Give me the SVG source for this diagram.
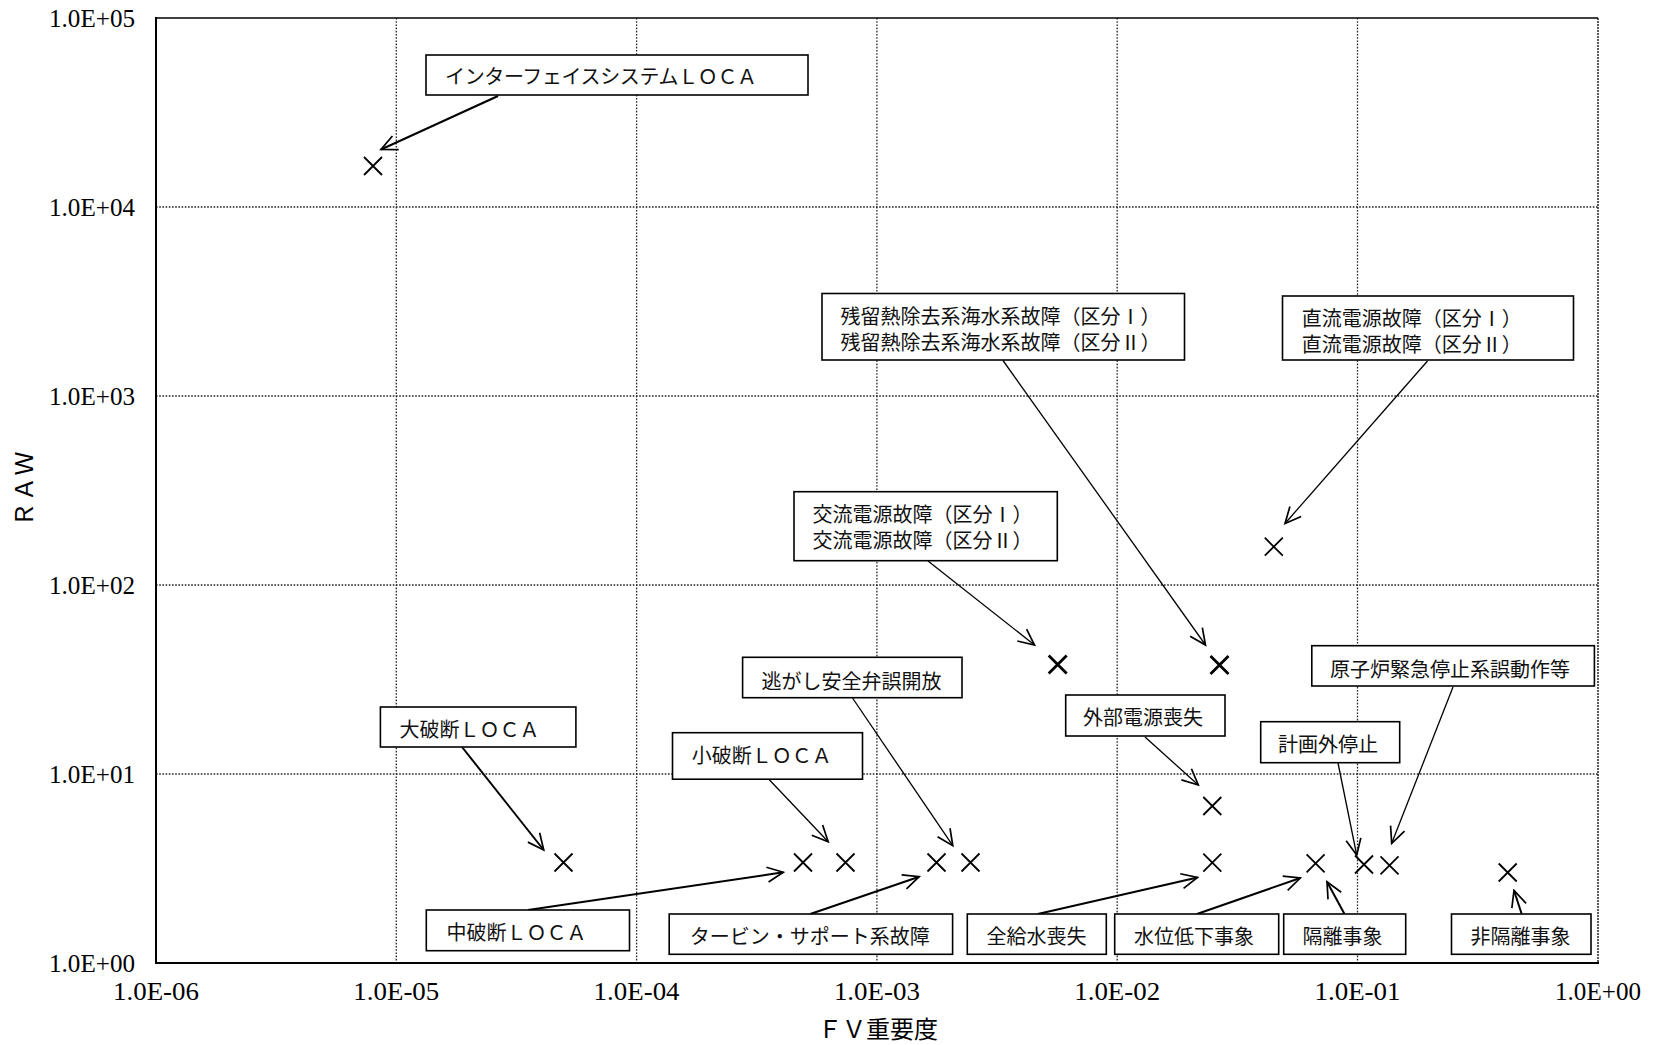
<svg xmlns="http://www.w3.org/2000/svg" xmlns:xlink="http://www.w3.org/1999/xlink" width="1655" height="1045" viewBox="0 0 1655 1045">
<style>
.grid{stroke:#222;stroke-width:1.3;stroke-dasharray:1.6 1.6;fill:none}
.axis{stroke:#000;stroke-width:2;fill:none}
.tick{font-family:"Liberation Serif","DejaVu Serif",serif;font-size:25px;fill:#000}
.title{font-family:"Liberation Serif","Noto Sans CJK JP",serif;font-size:24px;fill:#000}
.box rect{fill:#fff;stroke:#000;stroke-width:1.6}
.box text{font-family:"Noto Sans CJK JP","Liberation Sans",sans-serif;font-size:20px;fill:#111}
.pt{stroke:#000;stroke-width:1.8;fill:none}
.bold{stroke-width:2.8}
.c{stroke:#000;fill:none;marker-end:url(#ah)}
.thin{stroke-width:1.3}
.thick{stroke-width:2}
</style>
<defs>
<marker id="ah" markerUnits="userSpaceOnUse" viewBox="-20 -11 22 22" markerWidth="22" markerHeight="22" refX="0" refY="0" orient="auto">
<path d="M-16,-7.5 L0,0 L-16,7.5" fill="none" stroke="#000" stroke-width="1.7"/>
</marker>
<path id="xm" d="M-9,-9 L9,9 M-9,9 L9,-9"/>
</defs>
<rect width="1655" height="1045" fill="#fff"/>

<g id="grid">
<line class="grid" x1="156" y1="207" x2="1598" y2="207"/>
<line class="grid" x1="156" y1="396" x2="1598" y2="396"/>
<line class="grid" x1="156" y1="585" x2="1598" y2="585"/>
<line class="grid" x1="156" y1="774" x2="1598" y2="774"/>
<line class="grid" x1="396.3" y1="18" x2="396.3" y2="963"/>
<line class="grid" x1="636.6" y1="18" x2="636.6" y2="963"/>
<line class="grid" x1="876.9" y1="18" x2="876.9" y2="963"/>
<line class="grid" x1="1117.2" y1="18" x2="1117.2" y2="963"/>
<line class="grid" x1="1357.5" y1="18" x2="1357.5" y2="963"/>
<line class="grid" x1="1598" y1="18" x2="1598" y2="963" style="stroke-dasharray:2 1;stroke-width:1.5"/>
<line x1="156" y1="18" x2="1598" y2="18" stroke="#000" stroke-width="1.6"/>
<path class="axis" d="M156,17 V963 H1599"/>
</g>

<g id="ticks">
<text class="tick" x="135" y="27" text-anchor="end" textLength="86" lengthAdjust="spacingAndGlyphs">1.0E+05</text>
<text class="tick" x="135" y="216" text-anchor="end" textLength="86" lengthAdjust="spacingAndGlyphs">1.0E+04</text>
<text class="tick" x="135" y="405" text-anchor="end" textLength="86" lengthAdjust="spacingAndGlyphs">1.0E+03</text>
<text class="tick" x="135" y="594" text-anchor="end" textLength="86" lengthAdjust="spacingAndGlyphs">1.0E+02</text>
<text class="tick" x="135" y="783" text-anchor="end" textLength="86" lengthAdjust="spacingAndGlyphs">1.0E+01</text>
<text class="tick" x="135" y="972" text-anchor="end" textLength="86" lengthAdjust="spacingAndGlyphs">1.0E+00</text>
<text class="tick" x="113" y="1000" textLength="86" lengthAdjust="spacingAndGlyphs">1.0E-06</text>
<text class="tick" x="353.3" y="1000" textLength="86" lengthAdjust="spacingAndGlyphs">1.0E-05</text>
<text class="tick" x="593.6" y="1000" textLength="86" lengthAdjust="spacingAndGlyphs">1.0E-04</text>
<text class="tick" x="833.9" y="1000" textLength="86" lengthAdjust="spacingAndGlyphs">1.0E-03</text>
<text class="tick" x="1074.2" y="1000" textLength="86" lengthAdjust="spacingAndGlyphs">1.0E-02</text>
<text class="tick" x="1314.5" y="1000" textLength="86" lengthAdjust="spacingAndGlyphs">1.0E-01</text>
<text class="tick" x="1555" y="1000" textLength="86" lengthAdjust="spacingAndGlyphs">1.0E+00</text>
<text class="title" x="878" y="1037.5" text-anchor="middle">ＦＶ重要度</text>
<text class="title" transform="translate(33,489) rotate(-90)" text-anchor="middle" textLength="75" lengthAdjust="spacing">ＲＡＷ</text>
</g>

<g id="connectors">
<line class="c thick" x1="498" y1="96" x2="381" y2="149.5"/>
<line class="c thin" x1="1003" y1="360.5" x2="1205.5" y2="645"/>
<line class="c thin" x1="1427.5" y1="361" x2="1285" y2="523.5"/>
<line class="c thin" x1="928" y1="561" x2="1034.5" y2="645"/>
<line class="c thin" x1="852.5" y1="698" x2="952.8" y2="845.7"/>
<line class="c thin" x1="1145" y1="737" x2="1198.3" y2="785"/>
<line class="c thin" x1="1453" y1="687" x2="1391.7" y2="843.3"/>
<line class="c thin" x1="1338" y1="763" x2="1356.7" y2="855"/>
<line class="c thick" x1="462" y1="747" x2="543.7" y2="850"/>
<line class="c thin" x1="768.6" y1="779" x2="828.2" y2="841.7"/>
<line class="c thick" x1="528" y1="910" x2="783.3" y2="872.3"/>
<line class="c thick" x1="810.3" y1="914" x2="919.2" y2="876.7"/>
<line class="c thick" x1="1037.8" y1="914" x2="1197.5" y2="877.5"/>
<line class="c thick" x1="1197" y1="914" x2="1300.3" y2="878"/>
<line class="c thick" x1="1344.5" y1="914" x2="1327" y2="881.7"/>
<line class="c thick" x1="1521.7" y1="914" x2="1514" y2="890.5"/>
</g>

<g id="points">
<use id="p-interface" class="pt" xlink:href="#xm" x="373" y="166"/>
<use id="p-large" class="pt" xlink:href="#xm" x="563.5" y="862.5"/>
<use id="p-small" class="pt" xlink:href="#xm" x="803" y="862.5"/>
<use id="p-medium" class="pt" xlink:href="#xm" x="845.5" y="862.5"/>
<use id="p-srv" class="pt" xlink:href="#xm" x="936.5" y="862.5"/>
<use id="p-turbine" class="pt" xlink:href="#xm" x="970.5" y="862.5"/>
<use id="p-ac" class="pt bold" xlink:href="#xm" x="1057.7" y="664.5"/>
<use id="p-rhrs" class="pt bold" xlink:href="#xm" x="1219.5" y="665"/>
<use id="p-dc" class="pt" xlink:href="#xm" x="1273.8" y="546.7"/>
<use id="p-loop" class="pt" xlink:href="#xm" x="1212.3" y="806"/>
<use id="p-feed" class="pt" xlink:href="#xm" x="1212.3" y="862.7"/>
<use id="p-level" class="pt" xlink:href="#xm" x="1315.6" y="863.3"/>
<use id="p-unplanned" class="pt" xlink:href="#xm" x="1364" y="864.5"/>
<use id="p-scram" class="pt" xlink:href="#xm" x="1389.5" y="865.3"/>
<use id="p-nonisol" class="pt" xlink:href="#xm" x="1507.7" y="872.5"/>
</g>

<g id="n-interface" class="box"><rect x="426" y="55" width="382" height="40"/><text x="445" y="83.5" textLength="312" lengthAdjust="spacing">インターフェイスシステムＬＯＣＡ</text></g>
<g id="n-rhrs" class="box"><rect x="822" y="293.5" width="362.5" height="66.5"/><text x="840.5" y="323.5">残留熱除去系海水系故障（区分Ⅰ）</text><text x="840.5" y="349.5">残留熱除去系海水系故障（区分Ⅱ）</text></g>
<g id="n-dc" class="box"><rect x="1282.5" y="296" width="291" height="64"/><text x="1301.7" y="326">直流電源故障（区分Ⅰ）</text><text x="1301.7" y="352">直流電源故障（区分Ⅱ）</text></g>
<g id="n-ac" class="box"><rect x="794" y="491.7" width="263.3" height="69"/><text x="812.4" y="521.5">交流電源故障（区分Ⅰ）</text><text x="812.4" y="548">交流電源故障（区分Ⅱ）</text></g>
<g id="n-srv" class="box"><rect x="742.6" y="657.3" width="219.4" height="40.4"/><text x="761.5" y="688.5">逃がし安全弁誤開放</text></g>
<g id="n-scram" class="box"><rect x="1311.8" y="645.7" width="282.6" height="40.3"/><text x="1330" y="676.5">原子炉緊急停止系誤動作等</text></g>
<g id="n-loop" class="box"><rect x="1065.7" y="695" width="159.3" height="41"/><text x="1083" y="725">外部電源喪失</text></g>
<g id="n-unplanned" class="box"><rect x="1260.7" y="721.7" width="139" height="41"/><text x="1278" y="752">計画外停止</text></g>
<g id="n-large" class="box"><rect x="380.4" y="707" width="195.5" height="40"/><text x="399.5" y="737">大破断ＬＯＣＡ</text></g>
<g id="n-small" class="box"><rect x="672.5" y="732.7" width="190" height="46.5"/><text x="691.7" y="763">小破断ＬＯＣＡ</text></g>
<g id="n-medium" class="box"><rect x="426.3" y="910" width="203.2" height="40.7"/><text x="446.4" y="939.6">中破断ＬＯＣＡ</text></g>
<g id="n-turbine" class="box"><rect x="669.2" y="914" width="283.4" height="40.3"/><text x="689.7" y="943.6">タービン・サポート系故障</text></g>
<g id="n-feed" class="box"><rect x="967.3" y="914" width="139" height="40.3"/><text x="986.5" y="943.6">全給水喪失</text></g>
<g id="n-level" class="box"><rect x="1114.7" y="914" width="164" height="40.3"/><text x="1134" y="943.6">水位低下事象</text></g>
<g id="n-isol" class="box"><rect x="1283.7" y="914" width="122" height="40.3"/><text x="1302.5" y="943.6">隔離事象</text></g>
<g id="n-nonisol" class="box"><rect x="1451.5" y="914" width="139.5" height="40.3"/><text x="1470.5" y="943.6">非隔離事象</text></g>
</svg>
